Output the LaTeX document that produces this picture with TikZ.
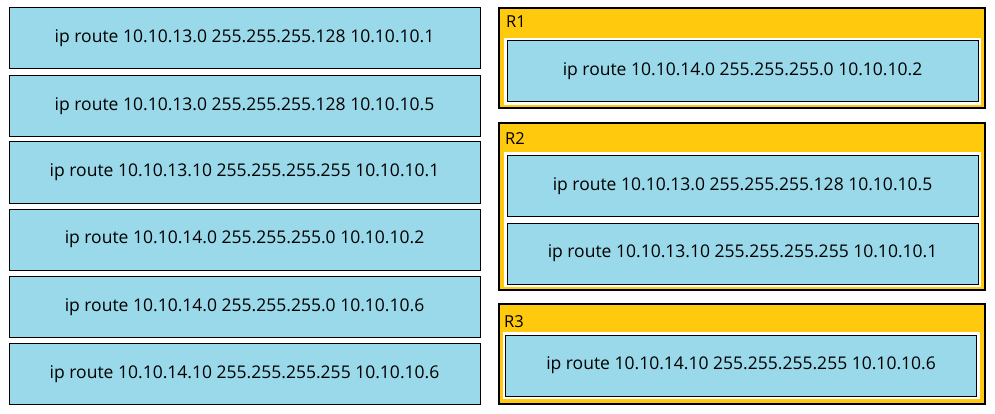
\documentclass[tikz,border=0pt]{standalone}
\usepackage{fontspec}
\setmainfont{Open Sans}
\definecolor{routeblue}{RGB}{153,217,234}
\definecolor{routergold}{RGB}{255,201,14}
\begin{document}
\begin{tikzpicture}[x=1pt,y=-1pt,
  item/.style={draw=black,line width=1pt,fill=routeblue,minimum width=471pt,minimum height=61pt,
    inner sep=0pt,font=\fontsize{17.5}{20}\selectfont},
  dropped/.style={item,preaction={draw=white,line width=6pt}},
  group/.style={draw=black,line width=1.2pt,fill=routergold,minimum width=486pt,inner sep=0pt},
  grouplabel/.style={anchor=base west,inner sep=0pt,font=\fontsize{16.5}{19}\selectfont}]
\useasboundingbox (0,0) rectangle (995,414);
% left column
\foreach \i/\y/\t in {1/38.5/{ip route 10.10.13.0 255.255.255.128 10.10.10.1},
                      2/106/{ip route 10.10.13.0 255.255.255.128 10.10.10.5},
                      3/172.5/{ip route 10.10.13.10 255.255.255.255 10.10.10.1},
                      4/239.5/{ip route 10.10.14.0 255.255.255.0 10.10.10.2},
                      5/307/{ip route 10.10.14.0 255.255.255.0 10.10.10.6},
                      6/374/{ip route 10.10.14.10 255.255.255.255 10.10.10.6}}
  \node[item] (l\i) at (244.5,\y) {\t};
% routers
\node[group,minimum height=100pt] (r1) at (742,58) {};
\node[group,minimum height=167pt] (r2) at (742,206.5) {};
\node[group,minimum height=100pt] (r3) at (742,354) {};
\node[grouplabel] (r1name) at (506,28) {R1};
\node[grouplabel] (r2name) at (505,145) {R2};
\node[grouplabel] (r3name) at (504,327) {R3};
\node[dropped] (r1a) at (742.5,71.5) {ip route 10.10.14.0 255.255.255.0 10.10.10.2};
\node[dropped] (r2a) at (742.5,186) {ip route 10.10.13.0 255.255.255.128 10.10.10.5};
\node[dropped] (r2b) at (742.5,253.5) {ip route 10.10.13.10 255.255.255.255 10.10.10.1};
\node[dropped] (r3a) at (741,365.5) {ip route 10.10.14.10 255.255.255.255 10.10.10.6};
\end{tikzpicture}
\end{document}
